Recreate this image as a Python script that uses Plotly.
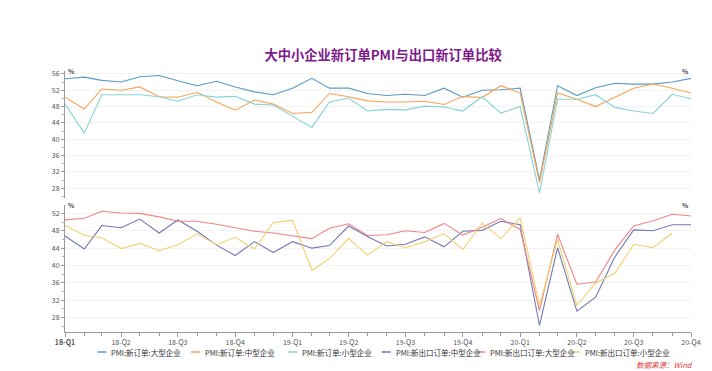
import plotly.graph_objects as go
import pandas as pd

# ---------------- data ----------------
months = pd.date_range("2018-01-01", periods=34, freq="MS")
quarter_ticks = list(months[::3])
quarter_labels = ["<b>18-Q1</b>", "18-Q2", "18-Q3", "18-Q4", "19-Q1", "19-Q2",
                  "19-Q3", "19-Q4", "20-Q1", "20-Q2", "20-Q3", "20-Q4"]

new_orders_large = [54.8, 55.2, 54.4, 54.0, 55.3, 55.6, 54.3, 53.1, 54.2, 52.8, 51.6, 50.9,
                    52.5, 54.9, 52.5, 52.5, 51.2, 50.7, 51.0, 50.7, 52.5, 50.3, 52.0, 52.1,
                    52.5, 30.0, 53.1, 50.7, 52.6, 53.7, 53.5, 53.5, 54.0, 54.9]
new_orders_medium = [50.3, 47.4, 52.3, 52.0, 52.8, 50.4, 50.3, 51.5, 49.1, 47.1, 49.6, 48.6,
                     46.3, 46.6, 51.2, 50.4, 49.4, 49.1, 49.1, 49.3, 48.5, 50.5, 50.2, 53.1,
                     51.3, 29.4, 51.3, 49.8, 48.0, 50.3, 52.5, 53.5, 52.5, 51.3]
new_orders_small = [48.6, 41.5, 50.9, 50.9, 50.9, 50.4, 49.3, 50.9, 50.3, 50.5, 48.6, 48.4,
                    45.7, 42.9, 49.1, 50.1, 46.9, 47.3, 47.2, 48.1, 47.9, 46.9, 50.4, 46.4,
                    48.0, 26.8, 49.8, 49.8, 50.9, 47.8, 46.9, 46.3, 51.0, 49.9]
export_medium = [46.8, 43.8, 49.2, 48.7, 50.7, 47.5, 50.5, 47.9, 44.7, 42.3, 45.5, 43.0,
                 45.5, 44.0, 44.6, 49.1, 46.7, 44.5, 44.9, 46.6, 44.3, 47.9, 48.1, 50.2,
                 49.4, 26.2, 44.1, 29.5, 32.7, 42.0, 48.2, 48.0, 49.4, 49.4]
export_large = [50.5, 50.9, 52.5, 52.1, 52.0, 51.2, 50.2, 50.2, 49.5, 48.7, 47.9, 47.5,
                46.9, 46.2, 48.6, 49.6, 46.9, 47.1, 48.0, 47.6, 49.7, 47.0, 48.8, 50.8,
                48.3, 29.6, 47.2, 35.7, 36.2, 43.6, 49.1, 50.3, 51.8, 51.4]
export_small = [49.3, 46.9, 46.4, 43.9, 45.1, 43.4, 44.8, 47.3, 44.8, 46.5, 43.8, 49.9,
                50.4, 38.9, 41.6, 46.2, 42.4, 45.5, 44.1, 45.5, 47.3, 43.7, 49.8, 46.2,
                51.0, 30.8, 46.0, 30.8, 36.0, 38.2, 44.9, 44.1, 47.5, None]

series_names = ["PMI:新订单:大型企业", "PMI:新订单:中型企业", "PMI:新订单:小型企业",
                "PMI:新出口订单:中型企业", "PMI:新出口订单:大型企业", "PMI:新出口订单:小型企业"]
series_values = [new_orders_large, new_orders_medium, new_orders_small,
                 export_medium, export_large, export_small]

# ---------------- styles ----------------
colors = ["#5b9bc6", "#f7a456", "#86d3d3", "#7178b6", "#f08585", "#f2d06c"]
panels = [("x2", "y"), ("x2", "y"), ("x2", "y"), ("x", "y2"), ("x", "y2"), ("x", "y2")]

FONT = "Noto Sans CJK SC, sans-serif"
W, H = 712, 371
ML, MR, MT, MB = 65, 11, 71, 39
PW, PH = W - ML - MR, H - MT - MB


def px_x(p):
    return (p - ML) / PW


def px_y(p):
    return (H - MB - p) / PH


fig = go.Figure()
for name, vals, color, (xa, ya) in zip(series_names, series_values, colors, panels):
    fig.add_trace(go.Scatter(x=months, y=vals, name=name, mode="lines",
                             line=dict(color=color, width=1.1),
                             xaxis=xa, yaxis=ya, connectgaps=False, showlegend=False))

ax_common = dict(showline=True, linecolor="#9a9a9a", linewidth=1,
                 ticks="outside", ticklen=3, tickcolor="#9a9a9a",
                 tickfont=dict(size=7, color="#555555", family=FONT),
                 dtick=4, tick0=0, zeroline=False)
minor = dict(ticks="outside", ticklen=2, tickcolor="#b0b0b0", dtick=2, showgrid=False)

top_range = [25.6, 56.7]
bot_range = [24.7, 53.9]

fig.update_layout(
    width=W, height=H,
    margin=dict(l=ML, r=MR, t=MT, b=MB),
    plot_bgcolor="white", paper_bgcolor="white",
    font=dict(family=FONT, color="#444444"),
    title=dict(text="<b>大中小企业新订单PMI与出口新订单比较</b>",
               x=0.538, xanchor="center", y=0.852, yanchor="middle",
               font=dict(size=13.3, color="#7d1a8a", family=FONT)),
    xaxis=dict(domain=[0, 1], anchor="y2", range=[months[0], months[-1]],
               tickvals=quarter_ticks, ticktext=quarter_labels,
               ticks="outside", ticklen=4, tickcolor="#9a9a9a",
               showline=True, linecolor="#9a9a9a", showgrid=False, zeroline=False,
               tickfont=dict(size=7, color="#555555", family=FONT),
               minor=dict(ticks="outside", ticklen=3, tickcolor="#9a9a9a", dtick="M1",
                          tick0=months[0], showgrid=False)),
    xaxis2=dict(matches="x", anchor="y", visible=False, range=[months[0], months[-1]]),
    yaxis=dict(domain=[0.513, 1], anchor="x2", range=top_range,
               showgrid=True, gridcolor="#f2f2f2", minor=minor, **ax_common),
    yaxis2=dict(domain=[0, 0.486], anchor="x", range=bot_range,
                showgrid=True, gridcolor="#f2f2f2", minor=minor, **ax_common),
    yaxis3=dict(overlaying="y", side="right", anchor="x2", range=top_range,
                showgrid=False, minor=minor, **ax_common),
    yaxis4=dict(overlaying="y2", side="right", anchor="x", range=bot_range,
                showgrid=False, minor=minor, **ax_common),
    showlegend=False,
)

# compact legend row below the x axis (short line swatch + label)
legend_text_px = [110, 205, 304, 399, 495, 591]
legend_y = px_y(352)
for name, color, tx in zip(series_names, colors, legend_text_px):
    fig.add_shape(type="line", xref="paper", yref="paper",
                  x0=px_x(tx - 12), x1=px_x(tx - 3), y0=legend_y, y1=legend_y,
                  line=dict(color=color, width=1.5))
    fig.add_annotation(text=name, xref="paper", yref="paper", x=px_x(tx), y=legend_y,
                       xanchor="left", yanchor="middle", showarrow=False,
                       font=dict(size=7.5, color="#333333", family=FONT))

# "%" unit markers
for ypos in (1.0, 0.486):
    fig.add_annotation(text="<b>%</b>", xref="paper", yref="paper", x=0.002, y=ypos,
                       xanchor="left", yanchor="middle", showarrow=False,
                       font=dict(size=6.5, color="#444444", family=FONT))
    fig.add_annotation(text="<b>%</b>", xref="paper", yref="paper", x=1.0, y=ypos,
                       xanchor="right", yanchor="middle", showarrow=False,
                       font=dict(size=6.5, color="#444444", family=FONT))

fig.add_annotation(text="<i>数据来源：Wind</i>", xref="paper", yref="paper",
                   x=px_x(705), y=px_y(364), xanchor="right", yanchor="middle",
                   showarrow=False, font=dict(size=7.5, color="#e03a3a", family=FONT))

# the page's default body margin would shift the 712x371 figure; remove it
fig.write_html("out.html", config={"displayModeBar": False},
               post_script="document.body.style.margin='0';")
